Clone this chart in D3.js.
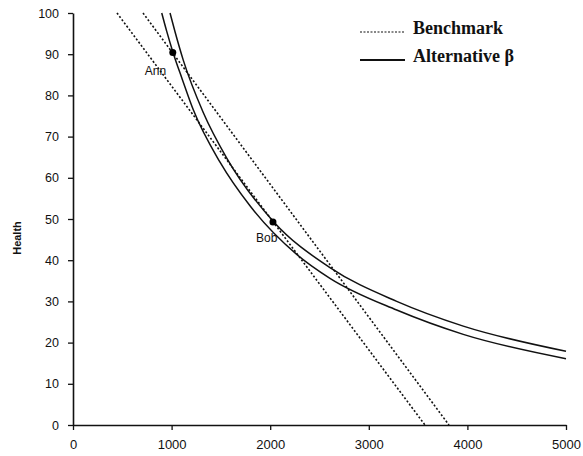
<!DOCTYPE html>
<html>
<head>
<meta charset="utf-8">
<script src="https://cdn.jsdelivr.net/npm/d3@7"></script>
<style>
  body { margin: 0; background: #fff; }
  text { font-family: "Liberation Sans", Arial, sans-serif; fill: #111; }
</style>
</head>
<body>
<div id="chart"></div>
<script>
// values (x = spending, y = health)
var xTicks = [0, 1000, 2000, 3000, 4000, 5000];
var yTicks = [0, 10, 20, 30, 40, 50, 60, 70, 80, 90, 100];

// benchmark: two straight dashed lines, endpoints
var benchA = [[446, 100], [3570, 0]];
var benchB = [[710, 100], [3813, 0]];

// alternative beta: two curves
var altAnn = [[900, 100], [950, 95.6], [1016, 90.3], [1107, 84.0], [1220, 76.5], [1491, 63.8],
              [1795, 53.2], [2269, 41.4], [2606, 35.6], [3283, 27.9], [3958, 22.0], [5000, 16.1]];
var altBob = [[984, 100], [1034, 95.5], [1119, 88.5], [1322, 75.8], [1559, 64.8], [2032, 49.4],
              [2606, 38.2], [3283, 30.0], [3958, 24.0], [5000, 17.9]];

var people = [{name: "Ann", x: 1012, y: 90.4, dx: -28, dy: 22},
              {name: "Bob", x: 2028, y: 49.3, dx: -17, dy: 20}];

var legendItems = [{label: "Benchmark", dash: "2,1.5", w: 1.2},
                   {label: "Alternative  \u03b2", dash: null, w: 2}];

var width = 583, height = 456;
var margin = {top: 13, right: 17, bottom: 31, left: 73};

var svg = d3.select("#chart").append("svg")
    .attr("width", width)
    .attr("height", height);

var x = d3.scaleLinear()
    .domain([0, 5000])
    .range([margin.left, width - margin.right]);
var y = d3.scaleLinear()
    .domain([0, 100])
    .range([height - margin.bottom, margin.top]);

// axes
var xAxis = svg.append("g")
    .attr("transform", "translate(0," + y(0) + ")")
    .call(d3.axisBottom(x).tickValues(xTicks).tickSize(5).tickPadding(10).tickSizeOuter(0).tickFormat(d3.format("d")));
var yAxis = svg.append("g")
    .attr("transform", "translate(" + x(0) + ",0)")
    .call(d3.axisLeft(y).tickValues(yTicks).tickSize(5).tickPadding(9).tickSizeOuter(0));

[xAxis, yAxis].forEach(g => {
    g.select(".domain").attr("stroke", "#111").attr("stroke-width", 1.6);
    g.selectAll(".tick line").attr("stroke", "#111").attr("stroke-width", 1.3);
    g.selectAll(".tick text").attr("fill", "#111").style("font-family", "Liberation Sans, Arial, sans-serif");
});
xAxis.selectAll(".tick text").style("font-size", "13px");
yAxis.selectAll(".tick text").style("font-size", "12.5px");

svg.append("text")
    .attr("transform", "translate(21,238) rotate(-90)")
    .attr("text-anchor", "middle")
    .style("font-size", "11px")
    .style("font-weight", "bold")
    .text("Health");

// lines
var line = d3.line()
    .x(d => x(d[0]))
    .y(d => y(d[1]));
var curve = d3.line()
    .curve(d3.curveMonotoneX)
    .x(d => x(d[0]))
    .y(d => y(d[1]));

[benchA, benchB].forEach(d => {
    svg.append("path")
        .attr("d", line(d))
        .attr("fill", "none")
        .attr("stroke", "#111")
        .attr("stroke-width", 1.6)
        .attr("stroke-dasharray", "2,2");
});

[altAnn, altBob].forEach(d => {
    svg.append("path")
        .attr("d", curve(d))
        .attr("fill", "none")
        .attr("stroke", "#111")
        .attr("stroke-width", 1.5);
});

// points
svg.selectAll("circle.pt")
    .data(people)
    .enter()
    .append("circle")
    .attr("class", "pt")
    .attr("cx", d => x(d.x))
    .attr("cy", d => y(d.y))
    .attr("r", 3.5)
    .attr("fill", "#000");

svg.selectAll("text.pt")
    .data(people)
    .enter()
    .append("text")
    .attr("class", "pt")
    .attr("x", d => x(d.x) + d.dx)
    .attr("y", d => y(d.y) + d.dy)
    .style("font-size", "12px")
    .text(d => d.name);

// legend
var legend = svg.append("g").attr("transform", "translate(360,32)");
legendItems.forEach((d, i) => {
    var gy = i * 28;
    legend.append("line")
        .attr("x1", 0).attr("x2", 45)
        .attr("y1", gy).attr("y2", gy)
        .attr("stroke", "#111")
        .attr("stroke-width", d.w)
        .attr("stroke-dasharray", d.dash);
    legend.append("text")
        .attr("x", 53)
        .attr("y", gy + 2)
        .style("font-family", "Liberation Serif, Times New Roman, serif")
        .style("font-weight", "bold")
        .style("font-size", "18px")
        .text(d.label);
});
</script>
</body>
</html>
